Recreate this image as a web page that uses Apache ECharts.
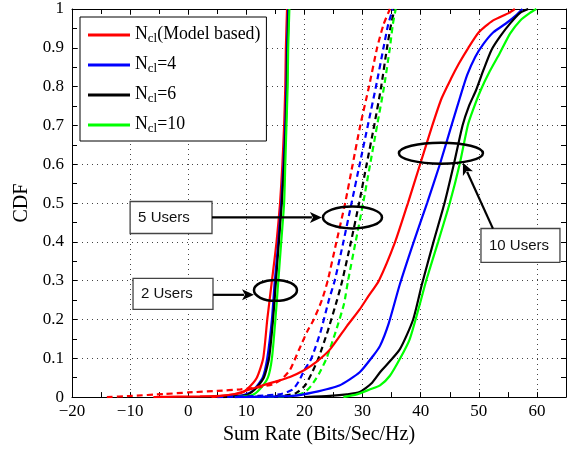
<!DOCTYPE html>
<html lang="en">
<head>
<meta charset="UTF-8">
<title>CDF of sum rate</title>
<style>
  html, body { margin: 0; padding: 0; background: #fff; }
  #main { width: 571px; height: 450px; }
</style>
</head>
<body>
<div id="main"></div>
<script src="https://cdn.jsdelivr.net/npm/echarts@6.0.0/dist/echarts.min.js"></script>
<script>
// legend names
var modelNames = ['(Model based)', '=4', '=6', '=10'];
var modelColors = ['#ff0000', '#0000ff', '#000000', '#00ff00'];

// x tick values (Sum Rate), y tick values (CDF)
var xTicks = [-20, -10, 0, 10, 20, 30, 40, 50, 60];
var yTicks = [0, 0.1, 0.2, 0.3, 0.4, 0.5, 0.6, 0.7, 0.8, 0.9, 1];

// 2 users  [sum rate, CDF]
var users2Model = [[-6, 0], [2, 0.002], [6, 0.004], [9, 0.01], [10.1, 0.02], [11.8, 0.05], [12.9, 0.1], [13.6, 0.2], [14.4, 0.3], [15.2, 0.4], [15.8, 0.5], [16.2, 0.6], [16.5, 0.7], [16.7, 0.8], [16.8, 0.9], [17, 1]];
var users2Ncl4 = [[5, 0], [9, 0.003], [11, 0.015], [12.8, 0.05], [13.6, 0.1], [14.4, 0.2], [14.9, 0.3], [15.5, 0.4], [16, 0.5], [16.4, 0.6], [16.7, 0.7], [16.9, 0.8], [17, 0.9], [17.2, 1]];
var users2Ncl6 = [[6, 0], [10, 0.005], [11.5, 0.02], [13, 0.05], [13.9, 0.1], [14.6, 0.2], [15.1, 0.3], [15.6, 0.4], [16.1, 0.5], [16.5, 0.6], [16.8, 0.7], [17, 0.8], [17.1, 0.9], [17.3, 1]];
var users2Ncl10 = [[8, 0], [11, 0.005], [12.3, 0.02], [13.7, 0.05], [14.4, 0.1], [15, 0.2], [15.5, 0.3], [16, 0.4], [16.5, 0.5], [16.7, 0.6], [16.9, 0.7], [17.1, 0.8], [17.2, 0.9], [17.4, 1]];

// 5 users
var users5Model = [[-14, 0], [-10, 0.003], [-4, 0.008], [0, 0.012], [5, 0.016], [9, 0.02], [12, 0.025], [14.5, 0.033], [16, 0.045], [17.5, 0.07], [19, 0.12], [20.5, 0.17], [21.6, 0.2], [23, 0.25], [24, 0.3], [25.5, 0.4], [27, 0.5], [28.3, 0.6], [29.6, 0.7], [31.1, 0.8], [32.5, 0.9], [33.6, 0.96], [34.7, 1]];
var users5Ncl4 = [[5, 0], [12, 0.003], [16, 0.008], [18, 0.02], [19, 0.04], [20, 0.07], [21.2, 0.1], [22.8, 0.17], [24.2, 0.25], [25.2, 0.3], [26.7, 0.4], [28.1, 0.5], [29.5, 0.6], [30.9, 0.7], [32.3, 0.8], [33.6, 0.9], [34.4, 0.96], [35.2, 1]];
var users5Ncl6 = [[8, 0], [16, 0.003], [18.5, 0.01], [20.1, 0.03], [21.2, 0.06], [22.4, 0.1], [24, 0.17], [25.6, 0.25], [26.5, 0.3], [28, 0.4], [29.4, 0.5], [30.7, 0.6], [32, 0.7], [33.2, 0.8], [34.2, 0.9], [34.9, 0.96], [35.5, 1]];
var users5Ncl10 = [[12, 0], [18, 0.003], [20, 0.012], [21.2, 0.03], [22.5, 0.06], [23.8, 0.1], [25.4, 0.17], [26.8, 0.24], [27.5, 0.3], [28.8, 0.4], [30.1, 0.5], [31.3, 0.6], [32.5, 0.7], [33.7, 0.8], [34.7, 0.9], [35.2, 0.96], [35.7, 1]];

// 10 users
var users10Model = [[4, 0], [8, 0.008], [12.3, 0.028], [15, 0.04], [17.5, 0.052], [20, 0.07], [22, 0.09], [24.4, 0.123], [27.3, 0.183], [29.5, 0.226], [31, 0.26], [32.8, 0.3], [35.6, 0.4], [37.8, 0.5], [39.9, 0.6], [42, 0.7], [43.6, 0.77], [45.2, 0.82], [46.6, 0.86], [48.2, 0.9], [50, 0.94], [52.4, 0.97], [55.2, 0.99], [56.2, 1]];
var users10Ncl4 = [[8, 0], [18, 0.003], [21.5, 0.012], [26, 0.03], [29.5, 0.064], [31.8, 0.106], [33, 0.132], [34.5, 0.19], [36.4, 0.29], [38.8, 0.4], [41.1, 0.5], [43.3, 0.6], [45.3, 0.7], [46.8, 0.774], [48, 0.83], [49.4, 0.877], [50.8, 0.91], [52.5, 0.94], [54.6, 0.962], [56.5, 0.985], [57.5, 1]];
var users10Ncl6 = [[20, 0], [24.4, 0.003], [27.3, 0.007], [29.5, 0.013], [31.5, 0.035], [33, 0.064], [36.4, 0.123], [38.7, 0.2], [40.2, 0.29], [42.2, 0.4], [44.1, 0.5], [45.7, 0.6], [47.2, 0.7], [48.3, 0.75], [49.5, 0.79], [50.8, 0.843], [52.2, 0.895], [53.7, 0.93], [55.4, 0.963], [57.1, 0.99], [58.5, 1]];
var users10Ncl10 = [[26.7, 0], [29, 0.007], [31.3, 0.02], [33, 0.03], [34.7, 0.055], [36.4, 0.098], [38.1, 0.149], [39.6, 0.226], [41, 0.303], [43, 0.4], [45, 0.5], [46.7, 0.6], [48.1, 0.7], [49, 0.74], [50.3, 0.79], [51.9, 0.84], [53.6, 0.886], [55.4, 0.937], [57.1, 0.97], [58.8, 0.99], [59.9, 1]];

var groups = [
    { data: [users2Model, users2Ncl4, users2Ncl6, users2Ncl10], dash: 'solid' },
    { data: [users5Model, users5Ncl4, users5Ncl6, users5Ncl10], dash: [6, 4] },
    { data: [users10Model, users10Ncl4, users10Ncl6, users10Ncl10], dash: 'solid' }
];

var serif = '"Liberation Serif", "DejaVu Serif", serif';
var sans = '"Liberation Sans", Arial, sans-serif';

var chart = echarts.init(document.getElementById('main'));

var series = [];
groups.forEach(function (g) {
    g.data.forEach(function (d, i) {
        series.push({
            type: 'line',
            name: modelNames[i],
            data: d,
            showSymbol: false,
            symbol: 'none',
            smooth: 0.2,
            color: modelColors[i],
            lineStyle: { width: 2.2, type: g.dash, color: modelColors[i] },
            animation: false
        });
    });
});

function minus(v) {
    return String(v).replace('-', '\u2212');
}

var tickStyle = { show: true, inside: true, length: 5, lineStyle: { color: '#000', width: 1 } };
var minorStyle = { show: true, splitNumber: 2, length: 5, lineStyle: { color: '#000', width: 1 } };
var gridLine = { show: true, lineStyle: { color: '#444', width: 1, type: [1, 4] } };

chart.setOption({
    animation: false,
    grid: { left: 72, right: 5, top: 9, bottom: 52 },
    legend: {
        orient: 'vertical',
        left: 80,
        top: 17,
        padding: [5, 6, 4, 8],
        itemWidth: 42,
        itemHeight: 3,
        itemGap: 5,
        icon: 'rect',
        backgroundColor: '#fff',
        borderColor: '#000',
        borderWidth: 1,
        data: modelNames,
        formatter: function (name) {
            return '{n|N}{s|cl}{n|' + name + '}';
        },
        textStyle: {
            fontFamily: serif,
            color: '#000',
            rich: {
                n: { fontFamily: serif, fontSize: 17.8, color: '#000', lineHeight: 20, verticalAlign: 'top', padding: [0, 0, 4, 0] },
                s: { fontFamily: serif, fontSize: 13, color: '#000', lineHeight: 14, verticalAlign: 'bottom', padding: [10, 0, 0, 0] }
            }
        }
    },
    xAxis: [{
        type: 'value',
        min: -20,
        max: 65,
        interval: 10,
        name: 'Sum Rate (Bits/Sec/Hz)',
        nameLocation: 'middle',
        nameGap: 27,
        nameTextStyle: { fontFamily: serif, fontSize: 20, color: '#000' },
        axisLine: { show: true, onZero: false, lineStyle: { color: '#000', width: 1 } },
        axisTick: tickStyle,
        minorTick: minorStyle,
        splitLine: gridLine,
        axisLabel: {
            fontFamily: serif, fontSize: 17, color: '#000', margin: 6,
            showMaxLabel: false,
            formatter: function (v) { return xTicks.indexOf(v) >= 0 ? minus(v) : ''; }
        }
    }, {
        type: 'value',
        position: 'top',
        min: -20,
        max: 65,
        interval: 10,
        axisLine: { show: true, onZero: false, lineStyle: { color: '#000', width: 1 } },
        axisTick: tickStyle,
        minorTick: minorStyle,
        splitLine: { show: false },
        axisLabel: { show: false }
    }],
    yAxis: [{
        type: 'value',
        min: 0,
        max: 1,
        interval: 0.1,
        name: 'CDF',
        nameLocation: 'middle',
        nameGap: 37,
        nameTextStyle: { fontFamily: serif, fontSize: 20, color: '#000' },
        axisLine: { show: true, onZero: false, lineStyle: { color: '#000', width: 1 } },
        axisTick: tickStyle,
        minorTick: minorStyle,
        splitLine: gridLine,
        axisLabel: {
            fontFamily: serif, fontSize: 17, color: '#000', margin: 8,
            formatter: function (v) {
                var r = Math.round(v * 10) / 10;
                return yTicks.indexOf(r) >= 0 ? String(r) : '';
            }
        }
    }, {
        type: 'value',
        position: 'right',
        min: 0,
        max: 1,
        interval: 0.1,
        axisLine: { show: true, onZero: false, lineStyle: { color: '#000', width: 1 } },
        axisTick: tickStyle,
        minorTick: minorStyle,
        splitLine: { show: false },
        axisLabel: { show: false }
    }],
    series: series
});

// annotations, placed in data coordinates
var notes = [
    { text: '5 Users', box: [-10.0, 0.504, 4.09, 0.4216], arrow: [4.09, 0.463, 23.0, 0.463], ring: [28.26, 0.463, 5.08, 0.0283] },
    { text: '2 Users', box: [-9.5, 0.306, 4.26, 0.226], arrow: [4.26, 0.2635, 11.31, 0.2635], ring: [15.01, 0.275, 3.7, 0.027] },
    { text: '10 Users', box: [50.37, 0.4344, 63.96, 0.347], arrow: [52.43, 0.434, 47.27, 0.604], ring: [43.48, 0.6285, 7.23, 0.027] }
];

function toPx(x, y) {
    return chart.convertToPixel({ gridIndex: 0 }, [x, y]);
}

var graphics = [];
notes.forEach(function (n) {
    var p1 = toPx(n.box[0], n.box[1]);
    var p2 = toPx(n.box[2], n.box[3]);
    graphics.push({
        type: 'rect',
        shape: { x: p1[0], y: p1[1], width: p2[0] - p1[0], height: p2[1] - p1[1] },
        style: { fill: '#fff', stroke: '#444', lineWidth: 1.3 },
        z: 100
    });
    graphics.push({
        type: 'text',
        x: p1[0] + 8,
        y: (p1[1] + p2[1]) / 2,
        style: { text: n.text, font: '15px ' + sans, fill: '#111', textVerticalAlign: 'middle' },
        z: 101
    });
    var a = toPx(n.arrow[0], n.arrow[1]);
    var b = toPx(n.arrow[2], n.arrow[3]);
    var dx = b[0] - a[0], dy = b[1] - a[1];
    var len = Math.sqrt(dx * dx + dy * dy);
    var ux = dx / len, uy = dy / len;
    var hl = 12, hw = 5.5;
    var base = [b[0] - ux * hl, b[1] - uy * hl];
    graphics.push({
        type: 'line',
        shape: { x1: a[0], y1: a[1], x2: base[0] + ux * 2, y2: base[1] + uy * 2 },
        style: { stroke: '#000', lineWidth: 2.2 },
        z: 100
    });
    graphics.push({
        type: 'polygon',
        shape: { points: [b, [base[0] - uy * hw, base[1] + ux * hw], [base[0] + ux * 3, base[1] + uy * 3], [base[0] + uy * hw, base[1] - ux * hw]] },
        style: { fill: '#000' },
        z: 100
    });
    var c = toPx(n.ring[0], n.ring[1]);
    var r = toPx(n.ring[0] + n.ring[2], n.ring[1] + n.ring[3]);
    graphics.push({
        type: 'ellipse',
        shape: { cx: c[0], cy: c[1], rx: r[0] - c[0], ry: c[1] - r[1] },
        style: { fill: null, stroke: '#000', lineWidth: 2.5 },
        z: 100
    });
});

chart.setOption({ graphic: graphics });
</script>
</body>
</html>
